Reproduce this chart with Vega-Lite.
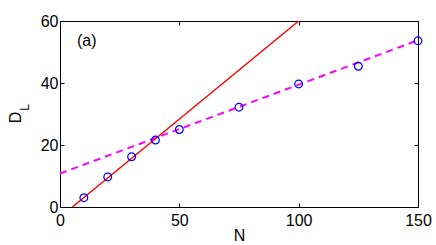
{
  "$schema": "https://vega.github.io/schema/vega-lite/v6.json",
  "width": 358,
  "height": 186,
  "autosize": "none",
  "padding": {"left": 60, "top": 21, "right": 18, "bottom": 38},
  "background": "white",
  "config": {
    "font": "Liberation Sans",
    "view": {"stroke": "#000000", "strokeWidth": 1},
    "axis": {
      "domain": false,
      "grid": false,
      "labelFlush": false,
      "labelOverlap": false,
      "tickSize": -4,
      "tickColor": "#000000",
      "tickWidth": 1,
      "labelFont": "Liberation Sans",
      "labelFontSize": 16,
      "labelColor": "#000000",
      "titleFont": "Liberation Sans",
      "titleFontSize": 16,
      "titleFontWeight": "normal",
      "titleColor": "#000000"
    }
  },
  "datasets": {
    "points": [
      {"N": 10, "D": 3.0},
      {"N": 20, "D": 9.7},
      {"N": 30, "D": 16.2},
      {"N": 40, "D": 21.6},
      {"N": 50, "D": 25.0},
      {"N": 75, "D": 32.2},
      {"N": 100, "D": 39.7},
      {"N": 125, "D": 45.4},
      {"N": 150, "D": 53.6}
    ],
    "fitSmall": [
      {"N": 5.2, "D": 0},
      {"N": 100, "D": 60}
    ],
    "fitLarge": [
      {"N": 0, "D": 10.8},
      {"N": 150, "D": 53.8}
    ],
    "panel": [
      {"N": 11.2, "D": 53.4, "label": "(a)"}
    ],
    "subscript": [
      {"N": -14.7, "D": 32.1, "label": "L"}
    ]
  },
  "layer": [
    {
      "data": {"name": "fitLarge"},
      "mark": {"type": "line", "color": "#ff00ff", "strokeWidth": 2, "strokeDash": [7, 5]},
      "encoding": {
        "x": {"field": "N", "type": "quantitative", "scale": {"domain": [0, 150], "nice": false},
          "axis": {"orient": "bottom", "values": [0, 50, 100, 150], "title": "N", "labelPadding": 9,
            "titleX": 179, "titleY": 33, "titleAlign": "center", "titleBaseline": "alphabetic"}},
        "y": {"field": "D", "type": "quantitative", "scale": {"domain": [0, 60], "nice": false},
          "axis": {"orient": "left", "values": [0, 20, 40, 60], "title": "D", "labelPadding": 6,
            "titleX": -40, "titleY": 96, "titleAngle": -90, "titleAlign": "center", "titleBaseline": "alphabetic"}}
      }
    },
    {
      "data": {"name": "fitSmall"},
      "mark": {"type": "line", "color": "#ff0000", "strokeWidth": 1.5},
      "encoding": {
        "x": {"field": "N", "type": "quantitative", "scale": {"domain": [0, 150], "nice": false},
          "axis": {"orient": "top", "values": [0, 50, 100, 150], "labels": false, "title": null}},
        "y": {"field": "D", "type": "quantitative", "scale": {"domain": [0, 60], "nice": false},
          "axis": {"orient": "right", "values": [0, 20, 40, 60], "labels": false, "title": null}}
      }
    },
    {
      "data": {"name": "points"},
      "mark": {"type": "point", "shape": "circle", "filled": false, "color": "#0000ff", "size": 60, "strokeWidth": 1.2, "opacity": 1},
      "encoding": {
        "x": {"field": "N", "type": "quantitative", "scale": {"domain": [0, 150], "nice": false}, "axis": null},
        "y": {"field": "D", "type": "quantitative", "scale": {"domain": [0, 60], "nice": false}, "axis": null}
      }
    },
    {
      "data": {"name": "panel"},
      "mark": {"type": "text", "fontSize": 16, "font": "Liberation Sans", "color": "#000000", "align": "center", "baseline": "middle"},
      "encoding": {
        "x": {"field": "N", "type": "quantitative", "scale": {"domain": [0, 150], "nice": false}, "axis": null},
        "y": {"field": "D", "type": "quantitative", "scale": {"domain": [0, 60], "nice": false}, "axis": null},
        "text": {"field": "label"}
      }
    },
    {
      "data": {"name": "subscript"},
      "mark": {"type": "text", "fontSize": 12, "font": "Liberation Sans", "color": "#000000", "align": "center", "baseline": "middle", "angle": 270},
      "encoding": {
        "x": {"field": "N", "type": "quantitative", "scale": {"domain": [0, 150], "nice": false}, "axis": null},
        "y": {"field": "D", "type": "quantitative", "scale": {"domain": [0, 60], "nice": false}, "axis": null},
        "text": {"field": "label"}
      }
    }
  ],
  "resolve": {"axis": {"x": "independent", "y": "independent"}}
}
